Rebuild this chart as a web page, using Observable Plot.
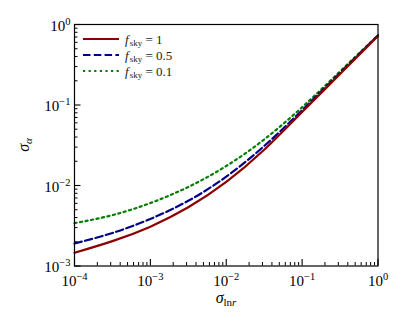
<!DOCTYPE html>
<html><head><meta charset="utf-8">
<script src="https://cdn.jsdelivr.net/npm/d3@7"></script>
<script src="https://cdn.jsdelivr.net/npm/@observablehq/plot@0.6"></script>
<style>body{margin:0;background:#fff} svg{display:block}</style>
</head><body><div id="chart"></div>
<script>
// ---- data ----
const sigmaLnr = [1e-4, 3.16e-4, 1e-3, 3.16e-3, 1e-2, 3.16e-2, 1e-1, 3.16e-1, 1];
const sigmaAlphaFsky1  = [1.459e-3, 2.037e-3, 3.083e-3, 5.358e-3, 1.107e-2, 2.780e-2, 8.20e-2, 0.2421, 0.718];
const sigmaAlphaFsky05 = [1.905e-3, 2.570e-3, 3.846e-3, 6.457e-3, 1.288e-2, 3.090e-2, 8.61e-2, 0.2512, 0.7328];
const sigmaAlphaFsky01 = [3.404e-3, 4.285e-3, 6.053e-3, 9.594e-3, 1.746e-2, 3.733e-2, 9.376e-2, 0.2612, 0.7362];
const seriesNames = ["1", "0.5", "0.1"];
const seriesColors = ["#8b0000", "#00008b", "#007f00"];

const xMajor = [1e-4, 1e-3, 1e-2, 1e-1, 1];
const xTickLabels = ["10^−4", "10^−3", "10^−2", "10^−1", "10^0"];
const yMajor = [1e-3, 1e-2, 1e-1, 1];
const yTickLabels = ["10^−3", "10^−2", "10^−1", "10^0"];
const minorMultipliers = [2, 3, 4, 5, 6, 7, 8, 9];

const xMinor = xMajor.slice(0, -1).flatMap(d => minorMultipliers.map(m => d * m));
const yMinor = yMajor.slice(0, -1).flatMap(d => minorMultipliers.map(m => d * m));
const rows = (ys) => sigmaLnr.map((x, i) => ({x, y: ys[i]}));

const W = 407, H = 326;
const font = "Liberation Serif, DejaVu Serif, serif";

const plot = Plot.plot({
  width: W, height: H,
  marginLeft: 74, marginRight: 29.5, marginTop: 24, marginBottom: 60.5,
  style: {fontFamily: font, fontSize: "15px", color: "#000", background: "#fff", overflow: "visible"},
  x: {type: "log", domain: [1e-4, 1], label: null},
  y: {type: "log", domain: [1e-3, 1], label: null},
  marks: [
    Plot.line(rows(sigmaAlphaFsky01), {x: "x", y: "y", stroke: seriesColors[2], strokeWidth: 2.2, strokeDasharray: "2.2,3.4", curve: "natural"}),
    Plot.line(rows(sigmaAlphaFsky05), {x: "x", y: "y", stroke: seriesColors[1], strokeWidth: 2.2, strokeDasharray: "7.5,3.3", curve: "natural"}),
    Plot.line(rows(sigmaAlphaFsky1),  {x: "x", y: "y", stroke: seriesColors[0], strokeWidth: 2.2, curve: "natural"}),
    Plot.axisX({ticks: xMinor, tickSize: -3.5, tickFormat: () => "", strokeWidth: 1}),
    Plot.axisX({ticks: xMajor, tickSize: -6.5, tickFormat: () => "", strokeWidth: 1.1}),
    Plot.axisX({ticks: xMajor, tickSize: 0, tickPadding: 9, tickFormat: d => xTickLabels[xMajor.indexOf(d)]}),
    Plot.axisY({ticks: yMinor, tickSize: -3.5, tickFormat: () => "", strokeWidth: 1}),
    Plot.axisY({ticks: yMajor, tickSize: -6.5, tickFormat: () => "", strokeWidth: 1.1}),
    Plot.axisY({ticks: yMajor, tickSize: 0, tickPadding: 4, dy: 1.5, tickFormat: d => yTickLabels[yMajor.indexOf(d)]}),
    Plot.frame({stroke: "#000", strokeWidth: 1.2})
  ]
});
document.getElementById("chart").appendChild(plot);

// superscripts in tick labels
plot.querySelectorAll("text").forEach(t => {
  const s = t.textContent;
  if (s.includes("^")) {
    const [base, exp] = s.split("^");
    t.textContent = base;
    const sp = document.createElementNS("http://www.w3.org/2000/svg", "tspan");
    sp.setAttribute("font-size", "10.5px");
    sp.setAttribute("dy", "-6");
    sp.textContent = exp;
    t.appendChild(sp);
  }
});

const svg = d3.select(plot);
// axis titles
const xt = svg.append("text").attr("x", 226).attr("y", 303).attr("text-anchor", "middle")
  .attr("font-family", font).attr("font-size", 16).attr("fill", "#000");
xt.append("tspan").attr("font-style", "italic").text("σ");
xt.append("tspan").attr("font-size", 11).attr("dy", 3).text("ln");
xt.append("tspan").attr("font-size", 11).attr("font-style", "italic").text("r");

const yt = svg.append("text").attr("transform", "translate(29,145) rotate(-90)").attr("text-anchor", "middle")
  .attr("font-family", font).attr("font-size", 16).attr("fill", "#000");
yt.append("tspan").attr("font-style", "italic").text("σ");
yt.append("tspan").attr("font-size", 11).attr("font-style", "italic").attr("dy", 3).text("α");

// legend
const dashes = [null, "7.5,3.3", "2.2,3.4"];
const ly = [39, 55, 71];
seriesNames.forEach((name, i) => {
  svg.append("line").attr("x1", 83).attr("x2", 119).attr("y1", ly[i]).attr("y2", ly[i])
    .attr("stroke", seriesColors[i]).attr("stroke-width", 2.2).attr("stroke-dasharray", dashes[i]);
  const t = svg.append("text").attr("x", 125).attr("y", ly[i] + 4.5).attr("text-anchor", "start")
    .attr("font-family", font).attr("font-size", 13).attr("fill", "#222");
  t.append("tspan").attr("font-style", "italic").text("f");
  t.append("tspan").attr("font-size", 9).attr("dy", 2.5).attr("dx", 1).text("sky");
  t.append("tspan").attr("dy", -2.5).text(" = " + name);
});
</script>
</body></html>
